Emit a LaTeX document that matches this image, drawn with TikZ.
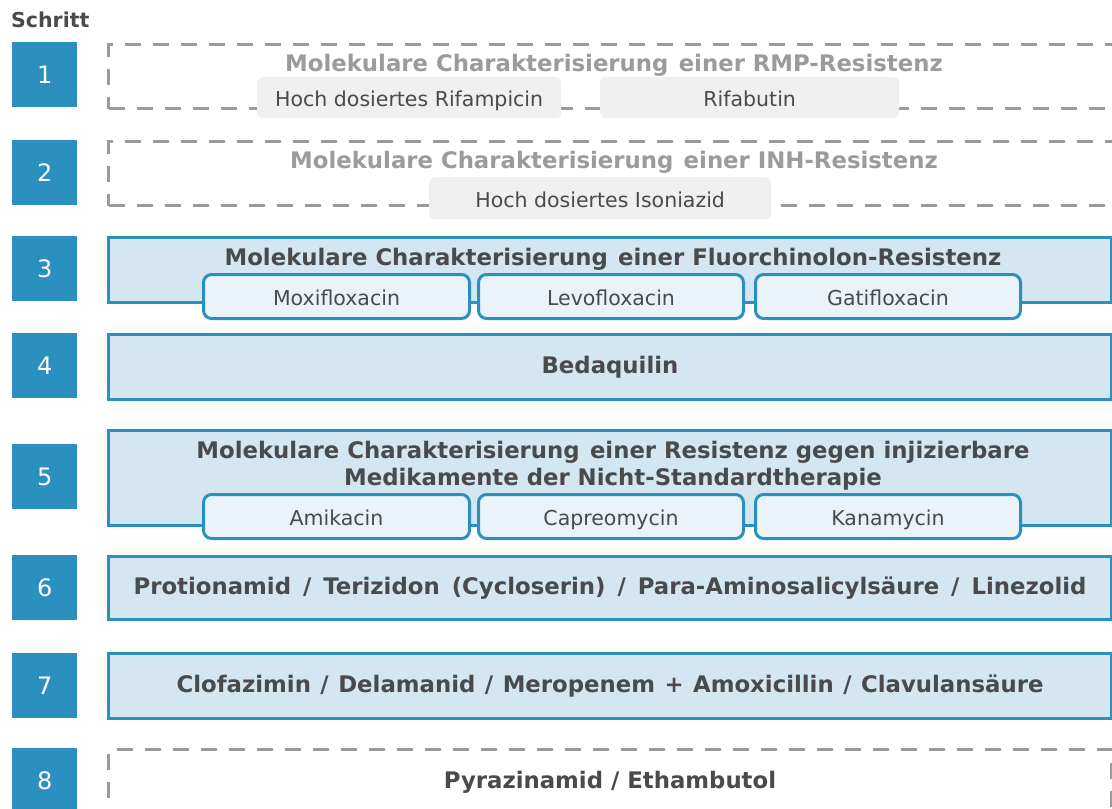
\documentclass[tikz,border=0pt]{standalone}
\usepackage{fontspec}
\setmainfont{DejaVu Sans}
\definecolor{stepblue}{HTML}{2B8FC0}
\definecolor{lightblue}{HTML}{D4E7F1}
\definecolor{pillblue}{HTML}{EAF3FA}
\definecolor{dashgray}{HTML}{9B9B9B}
\definecolor{pillgray}{HTML}{F0F0F0}
\definecolor{textdark}{HTML}{4A4A4A}
\newcommand{\titlefont}{\bfseries\fontsize{22.8}{27}\selectfont}
\newcommand{\pillfont}{\fontsize{20.5}{24}\selectfont}
\newcommand{\numfont}{\fontsize{24}{28}\selectfont}
\newcommand{\wsp}{\hspace{0.45em}}
\tikzset{
  num/.style={fill=stepblue, text=white, minimum width=65pt, minimum height=65pt, inner sep=0pt, font=\numfont, anchor=north west},
  dashbox/.style={draw=dashgray, line width=3pt, dash pattern=on 16pt off 12pt, anchor=north west, inner sep=0pt, minimum width=1003pt},
  bluebox/.style={draw=stepblue, fill=lightblue, line width=3pt, anchor=north west, inner sep=0pt, minimum width=1003pt},
  graypill/.style={fill=pillgray, rounded corners=5pt, anchor=north west, inner sep=0pt, text=textdark, font=\pillfont, text height=21pt, text depth=3pt},
  bluepill/.style={draw=stepblue, fill=pillblue, line width=3pt, rounded corners=8pt, anchor=north west, inner sep=0pt, text=textdark, font=\pillfont, minimum height=44pt, text height=21pt, text depth=3pt},
  titlegray/.style={text=dashgray, font=\titlefont, inner sep=0pt, text height=17pt, text depth=5pt},
  titledark/.style={text=textdark, font=\titlefont, inner sep=0pt, align=center},
  titleone/.style={titledark, text height=17pt, text depth=5pt},
}
\begin{document}
\begin{tikzpicture}[x=1pt,y=-1pt]
\clip (0,0) rectangle (1112,809);
\fill[white] (0,0) rectangle (1112,809);
\node[font=\bfseries\fontsize{20.5}{24}\selectfont, text=textdark, anchor=west, inner sep=0pt] (hdr) at (11,20) {Schritt};
\foreach \n/\y in {1/42,2/140,3/236,4/333,5/444,6/555,7/653,8/748}
  \node[num] (n\n) at (12,\y) {\n};
% step 1
\node[dashbox, minimum width=1020pt, minimum height=64pt] (b1) at (107,43) {};
\node[titlegray] (t1) at (614,65) {Molekulare Charakterisierung\wsp einer RMP-Resistenz};
\node[graypill, minimum width=304pt, minimum height=41pt] (p1a) at (257,77) {Hoch dosiertes Rifampicin};
\node[graypill, minimum width=299pt, minimum height=41pt] (p1b) at (600,77) {Rifabutin};
% step 2
\node[dashbox, minimum width=1020pt, minimum height=64pt] (b2) at (107,140) {};
\node[titlegray] (t2) at (614,162) {Molekulare Charakterisierung\wsp einer INH-Resistenz};
\node[graypill, minimum width=342pt, minimum height=42pt] (p2a) at (429,177) {Hoch dosiertes Isoniazid};
% step 3
\node[bluebox, minimum height=65pt] (b3) at (107,236) {};
\node[titleone] (t3) at (613,259) {Molekulare Charakterisierung\wsp einer Fluorchinolon-Resistenz};
\node[bluepill, minimum width=266pt] (p3a) at (202,273) {Moxifloxacin};
\node[bluepill, minimum width=265pt] (p3b) at (477,273) {Levofloxacin};
\node[bluepill, minimum width=265pt] (p3c) at (754,273) {Gatifloxacin};
% step 4
\node[bluebox, minimum height=65pt] (b4) at (107,333) {};
\node[titleone] (t4) at (610,367) {Bedaquilin};
% step 5
\node[bluebox, minimum height=95pt] (b5) at (107,429) {};
\node[titledark] (t5) at (613,466) {Molekulare Charakterisierung\wsp einer Resistenz gegen injizierbare\\Medikamente der Nicht-Standardtherapie};
\node[bluepill, minimum width=266pt] (p5a) at (202,493) {Amikacin};
\node[bluepill, minimum width=265pt] (p5b) at (477,493) {Capreomycin};
\node[bluepill, minimum width=265pt] (p5c) at (754,493) {Kanamycin};
% step 6
\node[bluebox, minimum height=63pt] (b6) at (107,555) {};
\node[titleone] (t6) at (610,588) {\spaceskip=12pt Protionamid / Terizidon (Cycloserin) / Para-Aminosalicylsäure / Linezolid};
% step 7
\node[bluebox, minimum height=65pt] (b7) at (107,652) {};
\node[titleone] (t7) at (610,686) {\spaceskip=9.5pt Clofazimin / Delamanid / Meropenem + Amoxicillin / Clavulansäure};
% step 8
\node[dashbox, minimum height=90pt] (b8) at (107,748) {};
\node[titleone] (t8) at (610,782) {Pyrazinamid / Ethambutol};
\end{tikzpicture}
\end{document}
